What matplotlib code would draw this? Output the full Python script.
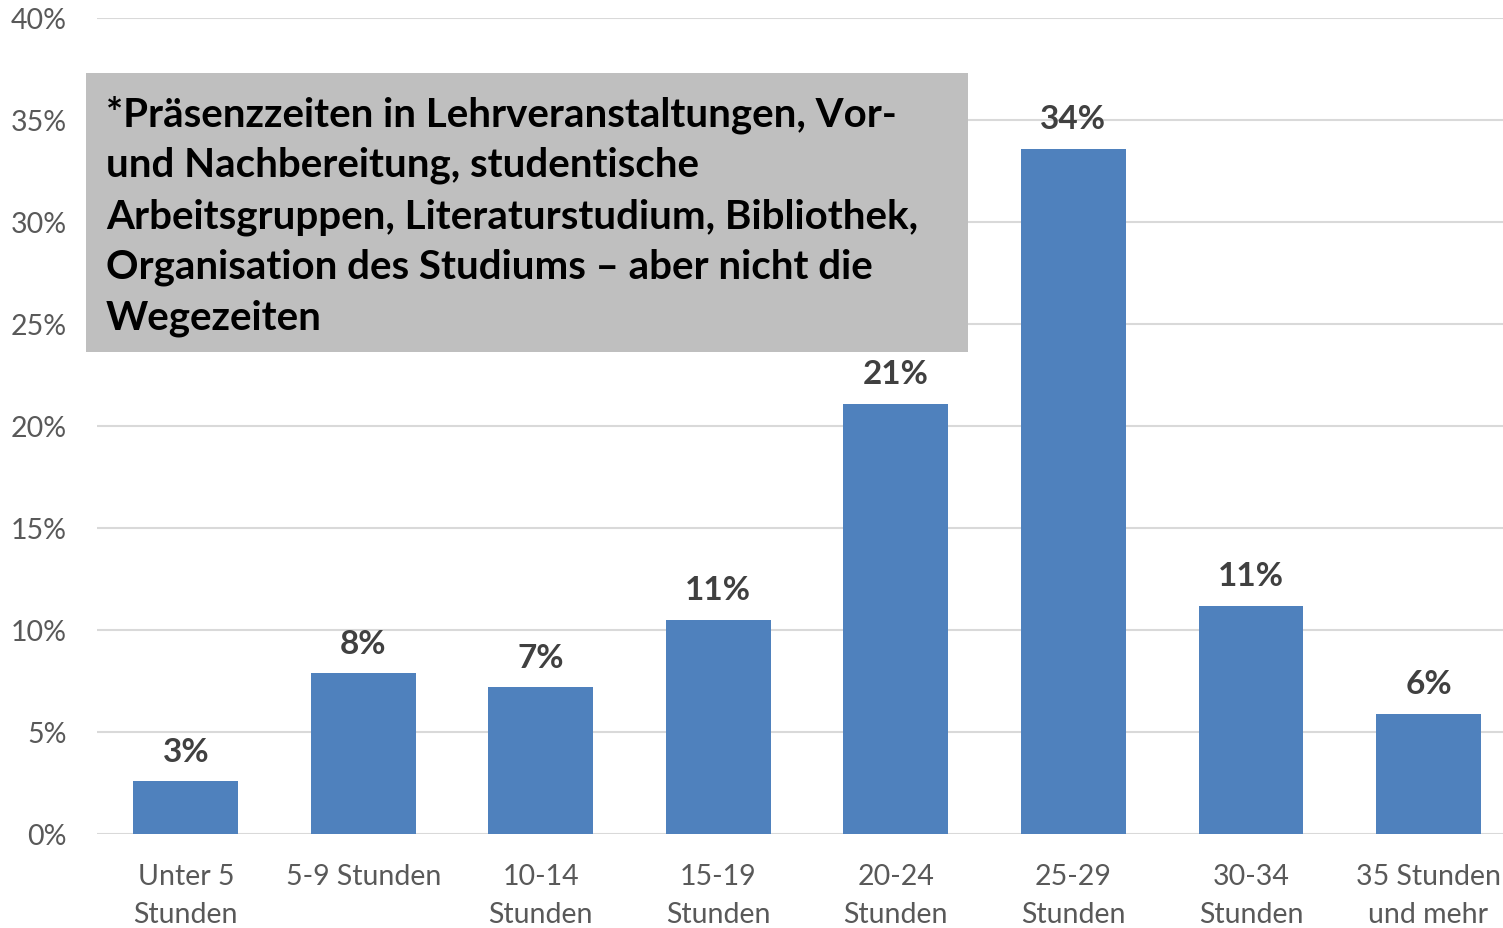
import numpy as np
import matplotlib.pyplot as plt
from matplotlib.patches import Rectangle

categories = ['Unter 5\nStunden', '5-9 Stunden', '10-14\nStunden', '15-19\nStunden',
              '20-24\nStunden', '25-29\nStunden', '30-34\nStunden', '35 Stunden\nund mehr']
values = [2.6, 7.9, 7.2, 10.5, 21.1, 33.6, 11.2, 5.9]
labels = ['3%', '8%', '7%', '11%', '21%', '34%', '11%', '6%']
yticks = [0, 5, 10, 15, 20, 25, 30, 35, 40]
note_lines = ['*Präsenzzeiten in Lehrveranstaltungen, Vor-',
              'und Nachbereitung, studentische',
              'Arbeitsgruppen, Literaturstudium, Bibliothek,',
              'Organisation des Studiums – aber nicht die',
              'Wegezeiten']

plt.rcParams['font.family'] = ['Lato', 'DejaVu Sans']

W, H = 1503, 929
fig = plt.figure(figsize=(W / 100, H / 100), dpi=100)
ax = fig.add_axes([97 / W, (H - 835) / H, (1503 - 97) / W, (835 - 19) / H])

x = np.arange(len(categories))
ax.bar(x, values, width=0.59, color='#4F81BD', zorder=3)
for xi, v, lab in zip(x, values, labels):
    ax.text(xi, v + 0.75, lab, ha='center', va='bottom', fontsize=24,
            fontweight='bold', color='#404040')

ax.set_xlim(-0.5, 7.42)
ax.set_ylim(0, 40)
ax.set_yticks(yticks)
ax.set_yticklabels([f'{t}%' for t in yticks])
ax.set_xticks(x)
ax.set_xticklabels(categories, fontsize=20.5, color='#595959', linespacing=1.55)
ax.tick_params(axis='y', labelsize=20.5, labelcolor='#595959', length=0, pad=22)
ax.tick_params(axis='x', length=0, pad=21)
ax.grid(axis='y', color='#D9D9D9', linewidth=1.5, zorder=0)
for s in ax.spines.values():
    s.set_visible(False)

# note box
box = Rectangle((86 / W, (H - 353) / H), (968 - 86) / W, (353 - 74) / H,
                transform=fig.transFigure, facecolor='#BFBFBF', edgecolor='none', zorder=5)
fig.add_artist(box)
for i, line in enumerate(note_lines):
    fig.text(106 / W, (H - 126 - 51 * i) / H, line, ha='left', va='baseline',
             fontsize=29, fontweight='bold', color='black', zorder=6)

fig.savefig('out.png', dpi=100)
